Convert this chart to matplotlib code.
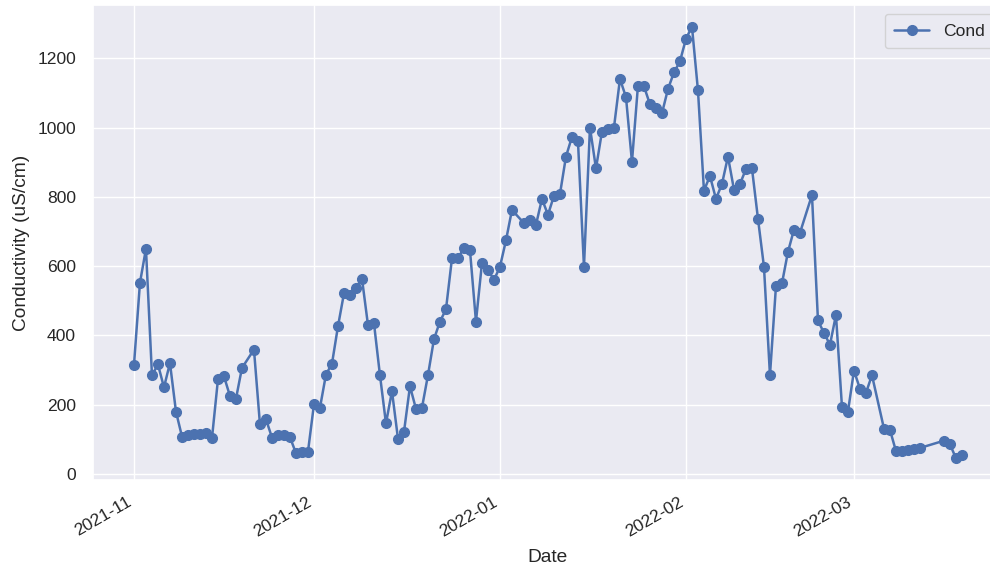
import matplotlib
matplotlib.use('Agg')
import matplotlib.pyplot as plt
import matplotlib.dates as mdates
import pandas as pd
import seaborn as sns

sns.set_theme()
plt.rcParams['font.family'] = ['Liberation Sans', 'DejaVu Sans']
plt.rcParams['xtick.labelsize'] = 12.6
plt.rcParams['ytick.labelsize'] = 12.6
plt.rcParams['axes.labelsize'] = 13.8
plt.rcParams['legend.fontsize'] = 12.6
plt.rcParams['xtick.major.pad'] = 4.5
plt.rcParams['ytick.major.pad'] = 6

# daily conductivity readings
dates = pd.to_datetime([
    '2021-11-01', '2021-11-02', '2021-11-03', '2021-11-04', '2021-11-05', '2021-11-06',
    '2021-11-07', '2021-11-08', '2021-11-09', '2021-11-10', '2021-11-11', '2021-11-12',
    '2021-11-13', '2021-11-14', '2021-11-15', '2021-11-16', '2021-11-17', '2021-11-18',
    '2021-11-19', '2021-11-21', '2021-11-22', '2021-11-23', '2021-11-24', '2021-11-25',
    '2021-11-26', '2021-11-27', '2021-11-28', '2021-11-29', '2021-11-30',
    '2021-12-01', '2021-12-02', '2021-12-03', '2021-12-04', '2021-12-05', '2021-12-06',
    '2021-12-07', '2021-12-08', '2021-12-09', '2021-12-10', '2021-12-11', '2021-12-12',
    '2021-12-13', '2021-12-14', '2021-12-15', '2021-12-16', '2021-12-17', '2021-12-18',
    '2021-12-19', '2021-12-20', '2021-12-21', '2021-12-22', '2021-12-23', '2021-12-24',
    '2021-12-25', '2021-12-26', '2021-12-27', '2021-12-28', '2021-12-29', '2021-12-30',
    '2021-12-31',
    '2022-01-01', '2022-01-02', '2022-01-03', '2022-01-05', '2022-01-06', '2022-01-07',
    '2022-01-08', '2022-01-09', '2022-01-10', '2022-01-11', '2022-01-12', '2022-01-13',
    '2022-01-14', '2022-01-15', '2022-01-16', '2022-01-17', '2022-01-18', '2022-01-19',
    '2022-01-20', '2022-01-21', '2022-01-22', '2022-01-23', '2022-01-24', '2022-01-25',
    '2022-01-26', '2022-01-27', '2022-01-28', '2022-01-29', '2022-01-30', '2022-01-31',
    '2022-02-01', '2022-02-02', '2022-02-03', '2022-02-04', '2022-02-05', '2022-02-06',
    '2022-02-07', '2022-02-08', '2022-02-09', '2022-02-10', '2022-02-11', '2022-02-12',
    '2022-02-13', '2022-02-14', '2022-02-15', '2022-02-16', '2022-02-17', '2022-02-18',
    '2022-02-19', '2022-02-20', '2022-02-22', '2022-02-23', '2022-02-24', '2022-02-25',
    '2022-02-26', '2022-02-27', '2022-02-28',
    '2022-03-01', '2022-03-02', '2022-03-03', '2022-03-04', '2022-03-06', '2022-03-07',
    '2022-03-08', '2022-03-09', '2022-03-10', '2022-03-11', '2022-03-12', '2022-03-16',
    '2022-03-17', '2022-03-18', '2022-03-19',
])

cond = [
    314, 552, 650, 285, 316, 250,
    320, 180, 108, 112, 114, 116,
    118, 103, 273, 282, 225, 217,
    306, 359, 143, 158, 105, 112,
    112, 106, 60, 62, 64,
    201, 191, 287, 318, 426, 521,
    516, 536, 564, 430, 435, 285,
    146, 239, 102, 121, 253, 188,
    191, 285, 389, 440, 475, 622,
    622, 653, 646, 440, 609, 590,
    560,
    598, 674, 762, 724, 732, 719,
    794, 748, 803, 808, 916, 973,
    961, 598, 1000, 882, 988, 995,
    1000, 1140, 1088, 901, 1121, 1119,
    1067, 1057, 1041, 1111, 1159, 1191,
    1256, 1291, 1107, 818, 860, 794,
    837, 916, 821, 837, 880, 882,
    737, 598, 285, 542, 550, 641,
    705, 696, 805, 443, 407, 373,
    459, 194, 180,
    298, 246, 234, 285, 131, 127,
    66, 67, 70, 72, 75, 96,
    86, 45, 55,
]

fig = plt.figure(figsize=(9.9, 5.7), dpi=100)
ax = fig.add_axes([0.0935, 0.158, 0.920, 0.833])

ax.plot(dates, cond, marker='o', linewidth=1.8, markersize=7, label='Cond')

ax.xaxis.set_major_locator(mdates.MonthLocator())
ax.xaxis.set_major_formatter(mdates.DateFormatter('%Y-%m'))
plt.setp(ax.get_xticklabels(), rotation=30, ha='right')

ax.set_xlabel('Date', labelpad=7)
ax.set_ylabel('Conductivity (uS/cm)', labelpad=5)
ax.legend(loc='upper right', borderpad=0.55)

fig.savefig('out.png', dpi=100)
